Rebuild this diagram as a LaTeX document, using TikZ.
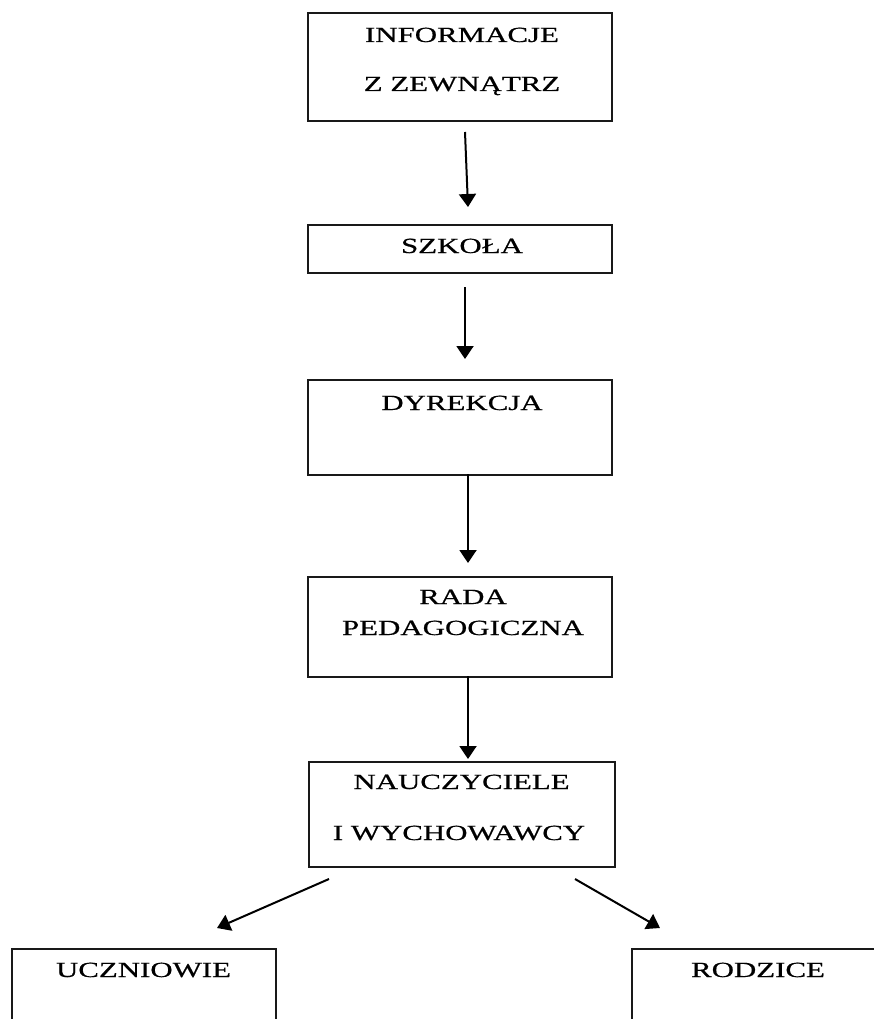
\documentclass[tikz,border=0pt]{standalone}
\usepackage{fontspec}
\setmainfont{Liberation Serif}[FakeStretch=1.43,FakeBold=0.6]
\usetikzlibrary{arrows.meta}
\begin{document}
\begin{tikzpicture}[x=1pt,y=-1pt,
  box/.style={draw=black!90, line width=1.6pt, inner sep=0pt, anchor=north west},
  lbl/.style={anchor=base, inner sep=0pt, font=\fontsize{21.6}{26}\selectfont},
  arr/.style={line width=2pt, -{Triangle[width=17pt,length=13pt]}}]
\useasboundingbox (0,0) rectangle (874,1019);
% boxes
\node[box, minimum width=304pt, minimum height=108pt] (b1) at (307,12) {};
\node[box, minimum width=304pt, minimum height=48pt] (b2) at (307,224) {};
\node[box, minimum width=304pt, minimum height=95pt] (b3) at (307,379) {};
\node[box, minimum width=304pt, minimum height=100pt] (b4) at (307,576) {};
\node[box, minimum width=306pt, minimum height=105pt] (b5) at (308,761) {};
\node[box, minimum width=264pt, minimum height=110pt] (b6) at (11,948) {};
\node[box, minimum width=270pt, minimum height=110pt] (b7) at (631,948) {};
% texts
\node[lbl] (t1a) at (462,42) {INFORMACJE};
\node[lbl] (t1b) at (462,91) {Z ZEWNĄTRZ};
\node[lbl] (t2) at (462,253) {SZKOŁA};
\node[lbl] (t3) at (462,410) {DYREKCJA};
\node[lbl] (t4a) at (463,604) {RADA};
\node[lbl] (t4b) at (463,635) {PEDAGOGICZNA};
\node[lbl] (t5a) at (461.5,789) {NAUCZYCIELE};
\node[lbl] (t5b) at (459,840) {I WYCHOWAWCY};
\node[lbl] (t6) at (143.5,977) {UCZNIOWIE};
\node[lbl] (t7) at (758,977) {RODZICE};
% connector ends
\coordinate (s1) at (465,132); \coordinate (e1) at (468,207);
\coordinate (s2) at (465,287); \coordinate (e2) at (465,359);
\coordinate (s3) at (468,474); \coordinate (e3) at (468,563);
\coordinate (s4) at (468,676); \coordinate (e4) at (468,759);
\coordinate (s5) at (329,879); \coordinate (e5) at (217,928);
\coordinate (s6) at (575,879); \coordinate (e6) at (660,928);
\draw[arr] (s1) -- (e1);
\draw[arr] (s2) -- (e2);
\draw[arr] (s3) -- (e3);
\draw[arr] (s4) -- (e4);
\draw[arr] (s5) -- (e5);
\draw[arr] (s6) -- (e6);
\end{tikzpicture}
\end{document}
